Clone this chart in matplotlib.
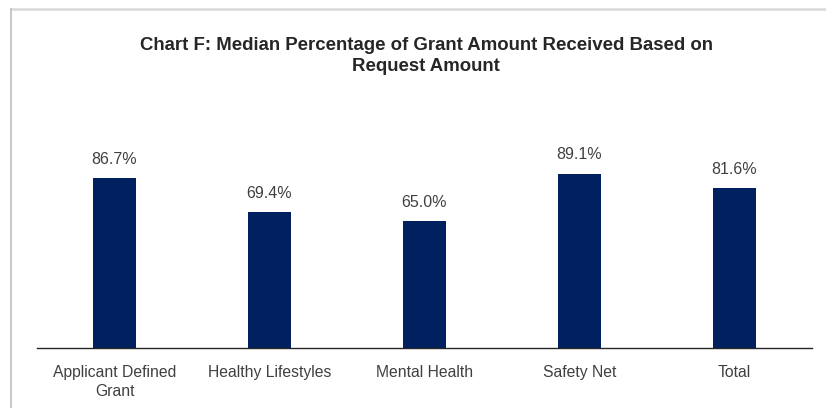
import matplotlib.pyplot as plt
from matplotlib.lines import Line2D

plt.rcParams['font.family'] = ['Liberation Sans', 'DejaVu Sans']

categories = ["Applicant Defined\nGrant", "Healthy Lifestyles", "Mental Health",
              "Safety Net", "Total"]
median_pct = [86.7, 69.4, 65.0, 89.1, 81.6]
value_labels = ["86.7%", "69.4%", "65.0%", "89.1%", "81.6%"]

navy = "#002060"
text_col = "#404040"

fig = plt.figure(figsize=(8.26, 4.08), dpi=100)
ax = fig.add_axes([37 / 826, 0.147, 775 / 826, 0.48])

x = range(len(categories))
bars = ax.bar(x, median_pct, width=0.28, color=navy, zorder=2)

for b, lab in zip(bars, value_labels):
    ax.annotate(lab, (b.get_x() + b.get_width() / 2, b.get_height()),
                xytext=(0, 8), textcoords="offset points", ha="center",
                va="bottom", fontsize=11.5, color=text_col, annotation_clip=False)

ax.set_xlim(-0.5, len(categories) - 0.5)
ax.set_ylim(0, 100)
ax.set_xticks(list(x))
ax.set_xticklabels(categories, fontsize=11.3, color=text_col, linespacing=1.3)
ax.tick_params(axis="x", length=0, pad=12.5)
ax.set_yticks([])
for side in ("top", "right", "left"):
    ax.spines[side].set_visible(False)
ax.spines["bottom"].set_color("#262626")
ax.spines["bottom"].set_linewidth(1.0)

fig.text(0.516, 0.863, "Chart F: Median Percentage of Grant Amount Received Based on\nRequest Amount",
         ha="center", va="center", fontsize=13.4, fontweight="bold", color="#262626",
         linespacing=1.35)

# light chart-area border (top and left edges)
fig.add_artist(Line2D([11 / 826, 1.0], [1 - 8.5 / 408, 1 - 8.5 / 408],
                      transform=fig.transFigure, color="#d9d9d9", lw=1.8))
fig.add_artist(Line2D([11 / 826, 11 / 826], [0, 1 - 8.5 / 408],
                      transform=fig.transFigure, color="#bfbfbf", lw=1.2))

fig.savefig("out.png", dpi=100)
